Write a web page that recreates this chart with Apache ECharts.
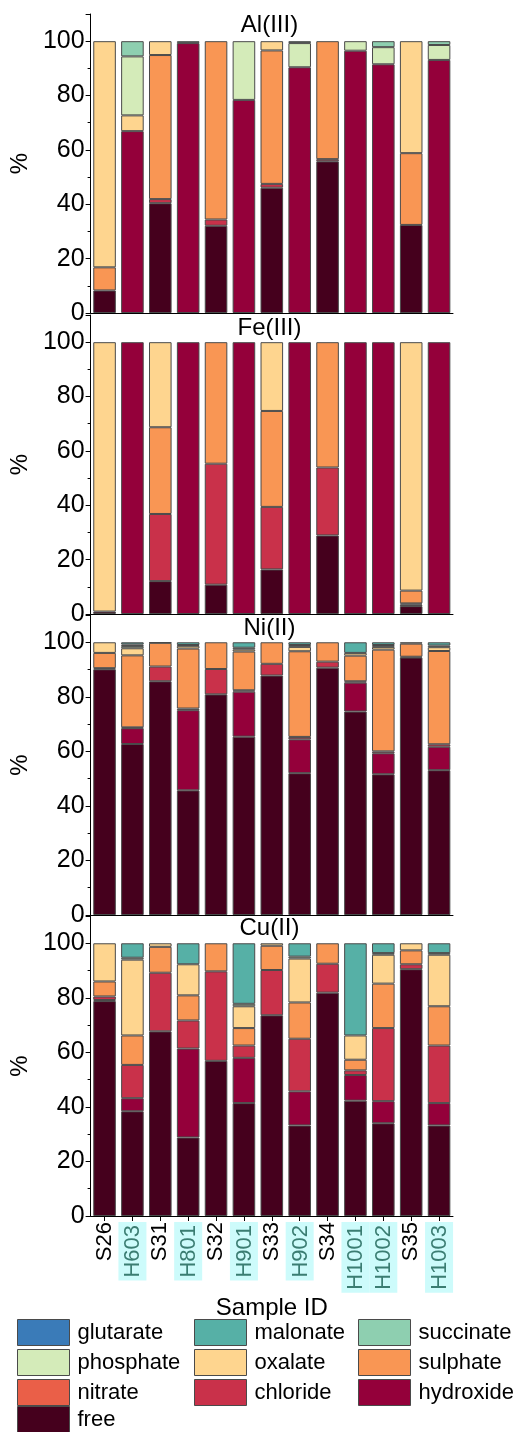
<!DOCTYPE html>
<html>
<head>
<meta charset="utf-8">
<style>
  html, body { margin: 0; padding: 0; background: #fff; }
  #chart { width: 528px; height: 1432px; }
</style>
<script src="https://cdn.jsdelivr.net/npm/echarts@6/dist/echarts.min.js"></script>
</head>
<body>
<div id="chart"></div>
<script>
// Sample IDs along the x axis
const samples = ['S26', 'H603', 'S31', 'H801', 'S32', 'H901', 'S33', 'H902', 'S34', 'H1001', 'H1002', 'S35', 'H1003'];

// Species, stacked from the bottom up
const species = ['free', 'hydroxide', 'chloride', 'nitrate', 'sulphate', 'oxalate', 'phosphate', 'succinate', 'malonate', 'glutarate'];
const speciesColors = ['#45001d', '#94003a', '#c9314a', '#ea5f48', '#f99654', '#fed58f', '#d4ebb9', '#8ecfb0', '#56b0a6', '#3a7bb8'];

// Legend blocks: each is a vertical column of entries placed at [left, top]
const legendBlocks = [
  { items: ['glutarate', 'phosphate', 'nitrate'], left: 17, top: 1319 },
  { items: ['free'], left: 17, top: 1406 },
  { items: ['malonate', 'oxalate', 'chloride'], left: 194, top: 1319 },
  { items: ['succinate', 'sulphate', 'hydroxide'], left: 358, top: 1319 }
];

const yTicks = [0, 20, 40, 60, 80, 100];

// Speciation (%) per metal ion; one row per species in the order of `species`
const alIII = [
  [8.3, 0, 40.4, 0, 32.1, 0, 46.1, 0, 55.8, 0, 0, 32.4, 0],
  [0, 66.9, 0, 99.3, 0, 78.4, 0, 90.4, 0, 96.5, 91.5, 0, 93.1],
  [0, 0, 1.5, 0, 2.3, 0, 1.4, 0, 0.8, 0, 0, 0, 0],
  [0, 0, 0, 0, 0, 0, 0, 0, 0, 0, 0, 0, 0],
  [8.5, 0, 53.0, 0, 65.6, 0, 49.1, 0, 43.4, 0, 0, 26.4, 0],
  [83.2, 5.8, 5.1, 0, 0, 0, 3.4, 0, 0, 0, 0, 41.2, 0],
  [0, 21.7, 0, 0, 0, 21.6, 0, 8.9, 0, 3.5, 6.3, 0, 5.5],
  [0, 5.6, 0, 0.7, 0, 0, 0, 0.7, 0, 0, 2.2, 0, 1.4],
  [0, 0, 0, 0, 0, 0, 0, 0, 0, 0, 0, 0, 0],
  [0, 0, 0, 0, 0, 0, 0, 0, 0, 0, 0, 0, 0]
];

const feIII = [
  [0.9, 0, 12.1, 0, 10.8, 0, 16.4, 0, 28.9, 0, 0, 2.9, 0],
  [0, 100, 0, 100, 0, 100, 0, 100, 0, 100, 100, 0.6, 100],
  [0, 0, 24.7, 0, 44.5, 0, 23.0, 0, 25.0, 0, 0, 0.4, 0],
  [0, 0, 0, 0, 0, 0, 0, 0, 0, 0, 0, 0, 0],
  [0, 0, 31.9, 0, 44.7, 0, 35.3, 0, 46.1, 0, 0, 4.7, 0],
  [99.1, 0, 31.3, 0, 0, 0, 25.3, 0, 0, 0, 0, 91.4, 0],
  [0, 0, 0, 0, 0, 0, 0, 0, 0, 0, 0, 0, 0],
  [0, 0, 0, 0, 0, 0, 0, 0, 0, 0, 0, 0, 0],
  [0, 0, 0, 0, 0, 0, 0, 0, 0, 0, 0, 0, 0],
  [0, 0, 0, 0, 0, 0, 0, 0, 0, 0, 0, 0, 0]
];

const niII = [
  [90.1, 62.7, 85.7, 45.7, 80.9, 65.4, 87.8, 52.0, 90.7, 74.6, 51.6, 94.4, 53.1],
  [0.4, 5.8, 0, 29.4, 0, 16.5, 0, 12.4, 0, 10.6, 7.7, 0, 8.6],
  [0, 0.3, 5.4, 0.6, 9.3, 0.5, 4.3, 0.9, 2.2, 0.5, 0.7, 0.3, 0.9],
  [0, 0, 0, 0, 0, 0, 0, 0, 0, 0, 0, 0, 0],
  [5.6, 26.4, 8.7, 22.0, 9.8, 14.2, 7.9, 31.4, 7.1, 9.4, 37.3, 4.8, 34.2],
  [3.9, 2.6, 0.2, 1.0, 0, 0.8, 0, 1.6, 0, 1.0, 1.0, 0.5, 1.4],
  [0, 0.8, 0, 0.3, 0, 0.6, 0, 0.7, 0, 0, 0.7, 0, 0.6],
  [0, 0.6, 0, 0, 0, 0, 0, 0, 0, 0, 0, 0, 0],
  [0, 0.8, 0, 1.0, 0, 2.0, 0, 1.0, 0, 3.9, 1.0, 0, 1.2],
  [0, 0, 0, 0, 0, 0, 0, 0, 0, 0, 0, 0, 0]
];

const cuII = [
  [78.8, 38.4, 67.7, 28.8, 56.9, 41.4, 73.6, 33.2, 81.9, 42.3, 34.0, 90.5, 33.2],
  [0.4, 4.8, 0, 32.6, 0, 16.6, 0, 12.5, 0, 9.4, 8.1, 0, 8.2],
  [1.3, 12.2, 21.5, 10.3, 32.8, 4.5, 16.6, 19.3, 10.6, 1.7, 26.8, 1.8, 21.1],
  [0, 0, 0, 0, 0, 0, 0, 0, 0, 0, 0, 0, 0],
  [5.5, 10.8, 9.5, 9.2, 10.3, 6.4, 8.9, 13.3, 7.5, 3.9, 16.3, 5.1, 14.4],
  [14.0, 27.8, 1.3, 11.4, 0, 8.0, 0.9, 16.1, 0, 8.9, 10.6, 2.6, 18.9],
  [0, 0.7, 0, 0, 0, 0.9, 0, 0.7, 0, 0, 0.6, 0, 0.6],
  [0, 0, 0, 0, 0, 0, 0, 0, 0, 0, 0, 0, 0],
  [0, 5.3, 0, 7.7, 0, 22.2, 0, 4.9, 0, 33.8, 3.6, 0, 3.6],
  [0, 0, 0, 0, 0, 0, 0, 0, 0, 0, 0, 0, 0]
];

const panels = [
  { title: 'Al(III)', rows: alIII },
  { title: 'Fe(III)', rows: feIII },
  { title: 'Ni(II)', rows: niII },
  { title: 'Cu(II)', rows: cuII }
];

const FONT = "'Liberation Sans', Arial, sans-serif";
const gridLeft = 86, gridRight = 75;
const gridTops = [14, 315, 615, 916];
const gridHeights = [299, 299, 300, 300];

const chart = echarts.init(document.getElementById('chart'), null, { renderer: 'canvas' });

const grids = [], xAxes = [], yAxes = [], series = [], graphics = [];

panels.forEach((panel, p) => {
  const last = p === panels.length - 1;
  grids.push({ left: gridLeft, right: gridRight, top: gridTops[p], height: gridHeights[p], containLabel: false });

  xAxes.push({
    type: 'category',
    gridIndex: p,
    data: samples,
    axisLine: { show: true, lineStyle: { color: '#000', width: 1 } },
    axisTick: { show: last, interval: 0, alignWithLabel: true, length: 5, lineStyle: { color: '#000' } },
    axisLabel: {
      show: last,
      interval: 0,
      hideOverlap: false,
      rotate: 90,
      margin: 6,
      fontFamily: FONT,
      fontSize: 22,
      color: '#000',
      formatter: v => v.charAt(0) === 'H' ? '{h|' + v + '}' : v,
      rich: {
        h: {
          fontFamily: FONT,
          fontSize: 22,
          color: '#3b7d72',
          backgroundColor: '#cdfbfb',
          padding: [4, 3, 2, 3]
        }
      }
    },
    name: last ? 'Sample ID' : '',
    nameLocation: 'middle',
    nameGap: 78,
    nameTextStyle: { fontFamily: FONT, fontSize: 24, color: '#000' }
  });

  yAxes.push({
    type: 'value',
    gridIndex: p,
    min: 0,
    max: 110,
    interval: 20,
    axisLine: { show: true, lineStyle: { color: '#000', width: 1 } },
    axisTick: { show: true, inside: false, length: 5, lineStyle: { color: '#000' } },
    minorTick: { show: true, splitNumber: 2, length: 3, lineStyle: { color: '#000' } },
    splitLine: { show: false },
    axisLabel: {
      margin: 6,
      fontFamily: FONT,
      fontSize: 25,
      color: '#000',
      showMaxLabel: false,
      formatter: v => (yTicks.indexOf(v) >= 0 ? String(v) : '')
    },
    name: '%',
    nameLocation: 'middle',
    nameGap: 47,
    nameRotate: 90,
    nameTextStyle: { fontFamily: FONT, fontSize: 24, color: '#000' }
  });

  species.forEach((sp, i) => {
    series.push({
      type: 'bar',
      name: sp,
      xAxisIndex: p,
      yAxisIndex: p,
      stack: 'metal' + p,
      barWidth: '81%',
      color: speciesColors[i],
      itemStyle: { color: speciesColors[i], borderColor: '#4a4a4a', borderWidth: 1 },
      emphasis: { disabled: true },
      data: panel.rows[i].map(v => (v === 0 ? '-' : v))
    });
  });
});

// Panel titles sit centred above the bars of each panel
const titleCentres = [25, 328, 628, 928];
panels.forEach((panel, p) => {
  graphics.push({
    type: 'text',
    x: gridLeft + (528 - gridLeft - gridRight) / 2,
    y: titleCentres[p],
    z: 100,
    style: {
      text: panel.title,
      fill: '#000',
      font: '24px ' + FONT,
      textAlign: 'center',
      textVerticalAlign: 'middle'
    }
  });
});

const legends = legendBlocks.map(block => ({
  orient: 'vertical',
  left: block.left,
  top: block.top,
  padding: 0,
  data: block.items,
  itemWidth: 52,
  itemHeight: 26,
  itemGap: 3,
  icon: 'rect',
  selectedMode: false,
  itemStyle: { borderColor: '#4a4a4a', borderWidth: 1 },
  textStyle: { fontFamily: FONT, fontSize: 22, color: '#000', padding: [0, 0, 0, 3] }
}));

chart.setOption({
  animation: false,
  backgroundColor: '#fff',
  grid: grids,
  xAxis: xAxes,
  yAxis: yAxes,
  legend: legends,
  graphic: graphics,
  series: series
});
</script>
</body>
</html>
